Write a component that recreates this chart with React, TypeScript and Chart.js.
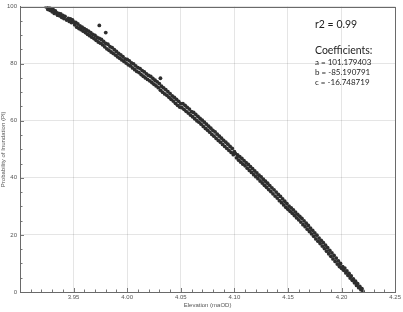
import React, { useEffect, useRef } from "react";
import { Chart, registerables } from "chart.js";

Chart.register(...registerables);

const xTickValues = [3.9, 3.95, 4.0, 4.05, 4.1, 4.15, 4.2, 4.25];
const yTickValues = [0, 20, 40, 60, 80, 100];

const elevation = [
  3.9245, 3.926, 3.927, 3.928, 3.929, 3.93, 3.931, 3.932, 3.933, 3.934, 3.935, 3.936, 3.937, 3.938, 3.939, 3.94, 3.941, 3.942, 3.9435, 3.945, 3.946, 3.947, 3.948, 3.949, 3.95, 3.951,
  3.952, 3.953, 3.954, 3.955, 3.956, 3.957, 3.958, 3.959, 3.96, 3.961, 3.962, 3.963, 3.964, 3.965, 3.966, 3.967, 3.968, 3.969, 3.97, 3.971, 3.972, 3.973, 3.974, 3.974, 3.975, 3.976, 3.977, 3.978, 3.979, 3.98, 3.98, 3.981, 3.982, 3.983, 3.984, 3.985, 3.986, 3.987, 3.988, 3.989, 3.99, 3.991, 3.992, 3.993, 3.994, 3.995, 3.996, 3.997, 3.998, 3.999, 4.0,
  4.001, 4.002, 4.003, 4.004, 4.005, 4.006, 4.007, 4.008, 4.009, 4.01, 4.011, 4.012, 4.013, 4.014, 4.015, 4.016, 4.017, 4.018, 4.019, 4.02, 4.021, 4.022, 4.023, 4.024, 4.025, 4.026, 4.027, 4.028, 4.029, 4.03, 4.031, 4.031, 4.032, 4.033, 4.034, 4.035, 4.036, 4.037, 4.038, 4.039, 4.04, 4.041, 4.042, 4.043, 4.044, 4.045, 4.046, 4.047, 4.048, 4.049, 4.05,
  4.051, 4.052, 4.053, 4.054, 4.055, 4.056, 4.057, 4.058, 4.059, 4.06, 4.061, 4.062, 4.063, 4.064, 4.065, 4.066, 4.067, 4.068, 4.069, 4.07, 4.071, 4.072, 4.073, 4.074, 4.075, 4.076, 4.077, 4.078, 4.079, 4.08, 4.081, 4.082, 4.083, 4.084, 4.085, 4.086, 4.087, 4.088, 4.089, 4.09, 4.091, 4.092, 4.093, 4.094, 4.095, 4.096, 4.097, 4.098, 4.099, 4.1,
  4.101, 4.102, 4.103, 4.104, 4.105, 4.106, 4.107, 4.108, 4.109, 4.11, 4.111, 4.112, 4.113, 4.114, 4.115, 4.116, 4.117, 4.118, 4.119, 4.12, 4.121, 4.122, 4.123, 4.124, 4.125, 4.126, 4.127, 4.128, 4.129, 4.13, 4.131, 4.132, 4.133, 4.134, 4.135, 4.136, 4.137, 4.138, 4.139, 4.14, 4.141, 4.142, 4.143, 4.144, 4.145, 4.146, 4.147, 4.148, 4.149, 4.15,
  4.151, 4.152, 4.153, 4.154, 4.155, 4.156, 4.157, 4.158, 4.159, 4.16, 4.161, 4.162, 4.163, 4.164, 4.165, 4.166, 4.167, 4.168, 4.169, 4.17, 4.171, 4.172, 4.173, 4.174, 4.175, 4.176, 4.177, 4.178, 4.179, 4.18, 4.181, 4.182, 4.183, 4.184, 4.185, 4.186, 4.187, 4.188, 4.189, 4.19, 4.191, 4.192, 4.193, 4.194, 4.195, 4.196, 4.197, 4.198, 4.199, 4.2,
  4.201, 4.202, 4.203, 4.204, 4.205, 4.206, 4.207, 4.208, 4.209, 4.21, 4.211, 4.212, 4.213, 4.214, 4.215, 4.216, 4.217, 4.218, 4.219, 4.22,
];

const probability = [
  99.9, 99.0, 99.8, 98.7, 99.3, 98.2, 98.9, 97.6, 98.5, 97.9, 97.0, 97.6, 96.8, 97.4, 96.2, 96.9, 95.8, 96.6, 95.3, 95.9, 94.8, 95.7, 94.4, 95.3, 94.6, 93.6,
  94.5, 92.8, 93.9, 92.3, 93.2, 91.9, 92.8, 91.4, 92.3, 90.9, 91.8, 90.3, 91.4, 89.8, 90.9, 89.3, 90.3, 88.8, 89.9, 88.2, 89.2, 87.6, 93.4, 88.9, 87.2, 88.5, 86.6, 87.8, 85.9, 90.9, 87.1, 85.2, 86.8, 84.7, 86.0, 84.1, 85.6, 83.6, 84.9, 83.0, 84.3, 82.4, 83.6, 81.9, 83.1, 81.3, 82.5, 80.8, 81.7, 80.2, 81.5,
  79.6, 81.0, 79.2, 80.3, 78.5, 79.9, 77.9, 79.2, 77.3, 78.6, 76.9, 78.3, 76.2, 77.6, 75.6, 77.1, 75.0, 76.4, 74.5, 75.9, 74.0, 75.5, 73.4, 74.8, 72.8, 74.2, 72.2, 73.6, 71.6, 73.0, 74.9, 70.7, 72.1, 70.0, 71.5, 69.4, 70.9, 68.9, 70.2, 68.2, 69.5, 67.5, 68.7, 66.9, 68.2, 66.1, 67.5, 65.4, 66.8, 64.8, 66.0,
  64.6, 66.0, 64.0, 65.4, 63.3, 64.7, 62.7, 64.1, 62.0, 63.2, 61.4, 62.9, 60.7, 62.2, 60.0, 61.5, 59.5, 60.8, 58.8, 60.2, 58.0, 59.5, 57.3, 58.8, 56.7, 58.1, 56.0, 57.4, 55.2, 56.6, 54.6, 56.1, 53.8, 55.3, 53.1, 54.6, 52.5, 53.9, 51.7, 53.1, 51.0, 52.5, 50.3, 51.8, 49.6, 51.0, 48.9, 50.3, 48.1, 49.2,
  48.5, 47.0, 48.0, 46.2, 47.4, 45.5, 46.8, 44.8, 46.0, 44.2, 45.3, 43.4, 44.7, 42.6, 43.9, 41.9, 43.2, 41.1, 42.4, 40.4, 41.7, 39.7, 40.9, 38.9, 40.3, 38.2, 39.5, 37.4, 38.8, 36.7, 38.1, 35.9, 37.3, 35.2, 36.5, 34.4, 35.8, 33.6, 35.0, 32.9, 34.2, 32.0, 33.5, 31.3, 32.6, 30.5, 31.8, 29.7, 31.0, 29.0,
  30.1, 28.3, 29.5, 27.6, 28.8, 26.8, 28.0, 26.0, 27.2, 25.3, 26.5, 24.5, 25.8, 23.6, 24.9, 22.9, 24.1, 22.0, 23.3, 21.2, 22.4, 20.4, 21.6, 19.5, 20.7, 18.6, 19.9, 17.8, 18.9, 17.0, 18.1, 16.1, 17.3, 15.2, 16.4, 14.3, 15.5, 13.4, 14.6, 12.5, 13.7, 11.6, 12.8, 10.7, 11.9, 9.8, 10.9, 8.9, 10.0, 8.3,
  8.9, 7.6, 8.4, 6.7, 7.4, 5.8, 6.5, 4.9, 5.6, 4.1, 4.6, 3.2, 3.8, 2.3, 2.9, 1.5, 2.0, 0.8, 1.2, 0.3,
];

const annotationLines = [
  { text: "r2 = 0.99", size: 10.5, gap: 0 },
  { text: "Coefficients:", size: 10.5, gap: 26 },
  { text: "a = 101.179403", size: 8, gap: 11 },
  { text: "b = -85.190791", size: 8, gap: 10 },
  { text: "c = -16.748719", size: 8, gap: 10 },
];

const xMinorStep = 0.01;
const yMinorStep = 5;

const framePlugin = {
  id: "frameAndMinor",
  afterDraw(chart: any) {
    const { ctx, chartArea, scales } = chart;
    const xs = scales.x;
    const ys = scales.y;
    ctx.save();
    ctx.strokeStyle = "#777";
    ctx.lineWidth = 1;
    ctx.beginPath();
    for (let i = 0; i <= 35; i++) {
      const v = 3.9 + i * xMinorStep;
      const px = Math.round(xs.getPixelForValue(v)) + 0.5;
      const len = i % 5 === 0 ? 4 : 2.5;
      ctx.moveTo(px, chartArea.bottom);
      ctx.lineTo(px, chartArea.bottom - len);
    }
    for (let i = 0; i <= 20; i++) {
      const v = i * yMinorStep;
      const py = Math.round(ys.getPixelForValue(v)) + 0.5;
      const len = i % 4 === 0 ? 4 : 2.5;
      ctx.moveTo(chartArea.left, py);
      ctx.lineTo(chartArea.left + len, py);
    }
    ctx.stroke();
    ctx.strokeStyle = "#6a6a6a";
    ctx.strokeRect(
      Math.round(chartArea.left) + 0.5,
      Math.round(chartArea.top) + 0.5,
      Math.round(chartArea.right - chartArea.left),
      Math.round(chartArea.bottom - chartArea.top)
    );
    ctx.fillStyle = "#1e1e1e";
    ctx.textAlign = "left";
    ctx.textBaseline = "alphabetic";
    let y = 28;
    for (const line of annotationLines) {
      y += line.gap;
      ctx.font = `${line.size}px Lato, "Open Sans", sans-serif`;
      ctx.fillText(line.text, 315, y);
    }
    ctx.restore();
  },
};

export default function App() {
  const canvasRef = useRef<HTMLCanvasElement | null>(null);

  useEffect(() => {
    if (!canvasRef.current) return;
    const points = elevation.map((x, i) => ({ x, y: probability[i] }));
    const tickFont = { family: '"Liberation Sans", Arial, sans-serif', size: 6 };
    const chart = new Chart(canvasRef.current, {
      type: "scatter",
      data: {
        datasets: [
          {
            data: points,
            backgroundColor: "#2e2e2e",
            borderColor: "#2e2e2e",
            borderWidth: 0,
            pointRadius: 1.9,
            pointHoverRadius: 1.9,
          },
        ],
      },
      options: {
        animation: false,
        responsive: true,
        maintainAspectRatio: false,
        layout: { padding: { top: 5, right: 5, left: 0, bottom: 0 } },
        plugins: {
          legend: { display: false },
          tooltip: { enabled: false },
        },
        scales: {
          x: {
            type: "linear",
            min: 3.9,
            max: 4.25,
            afterBuildTicks: (scale: any) => {
              scale.ticks = xTickValues.map((v) => ({ value: v }));
            },
            afterFit: (scale: any) => {
              scale.height = 20;
            },
            ticks: {
              font: tickFont,
              color: "#555",
              padding: 2,
              maxRotation: 0,
              autoSkip: false,
              callback: (v: any) => {
                const n = Number(v);
                if (Math.abs(n - 3.9) < 1e-6) return "";
                return n.toFixed(2);
              },
            },
            grid: { color: "rgba(0,0,0,0.10)", drawTicks: false },
            border: { display: true, color: "#6a6a6a" },
            title: {
              display: true,
              text: "Elevation (maOD)",
              font: { family: '"Liberation Sans", Arial, sans-serif', size: 6 },
              color: "#555",
              padding: { top: 1, bottom: 3 },
            },
          },
          y: {
            type: "linear",
            min: 0,
            max: 100,
            afterBuildTicks: (scale: any) => {
              scale.ticks = yTickValues.map((v) => ({ value: v }));
            },
            afterFit: (scale: any) => {
              scale.width = 20;
            },
            ticks: {
              font: tickFont,
              color: "#555",
              padding: 3,
              autoSkip: false,
            },
            grid: { color: "rgba(0,0,0,0.10)", drawTicks: false },
            border: { display: true, color: "#6a6a6a" },
            title: {
              display: true,
              text: "Probability of Inundation (PI)",
              font: { family: '"Liberation Sans", Arial, sans-serif', size: 6 },
              color: "#555",
              padding: 0,
            },
          },
        },
      },
      plugins: [framePlugin],
    } as any);
    return () => chart.destroy();
  }, []);

  return (
    <div style={{ position: "absolute", left: 0, top: 0, width: 403, height: 312, background: "#fff" }}>
      <canvas ref={canvasRef} />
    </div>
  );
}
